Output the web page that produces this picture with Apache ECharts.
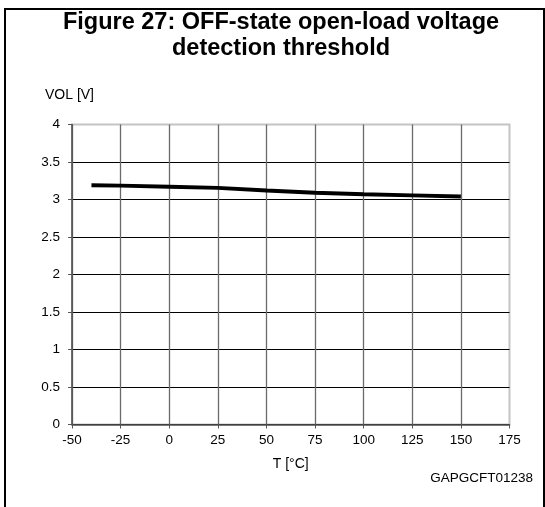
<!DOCTYPE html>
<html>
<head>
<meta charset="utf-8">
<script src="https://cdn.jsdelivr.net/npm/echarts@6/dist/echarts.min.js"></script>
<style>
  html, body { margin: 0; padding: 0; background: #fff; }
  #chart { width: 545px; height: 507px; }
</style>
</head>
<body>
<div id="chart"></div>
<script>
// temperature points (°C) and threshold voltage (V)
const temps = [-40, -25, 0, 25, 50, 75, 100, 125, 150]
const vol = [3.19, 3.185, 3.17, 3.155, 3.12, 3.09, 3.07, 3.055, 3.04]
const xTicks = [-50, -25, 0, 25, 50, 75, 100, 125, 150, 175]
const yTicks = [0, 0.5, 1, 1.5, 2, 2.5, 3, 3.5, 4]

const font = '"Liberation Sans", Arial, sans-serif'
const chart = echarts.init(document.getElementById('chart'))

chart.setOption({
  animation: false,
  title: [
    {
      text: 'Figure 27: OFF-state open-load voltage\ndetection threshold',
      left: 281,
      top: 10,
      textAlign: 'center',
      padding: 0,
      textStyle: {
        fontFamily: font,
        fontWeight: 'bold',
        fontSize: 23.5,
        lineHeight: 26,
        color: '#000'
      }
    },
    {
      text: 'GAPGCFT01238',
      right: 12,
      top: 471,
      padding: 0,
      textStyle: {
        fontFamily: font,
        fontWeight: 'normal',
        fontSize: 13.5,
        color: '#000'
      }
    }
  ],
  graphic: [
    { type: 'line', shape: { x1: 5, y1: 9, x2: 5, y2: 507 }, style: { stroke: '#000', lineWidth: 2 } },
    { type: 'line', shape: { x1: 4, y1: 9, x2: 545, y2: 9 }, style: { stroke: '#000', lineWidth: 2 } },
    { type: 'line', shape: { x1: 544, y1: 8, x2: 544, y2: 507 }, style: { stroke: '#000', lineWidth: 2 } }
  ],
  grid: {
    left: 72,
    right: 35.5,
    top: 124.5,
    bottom: 82.5,
    show: true,
    borderColor: '#c4c4c4',
    borderWidth: 2
  },
  xAxis: {
    type: 'value',
    min: xTicks[0],
    max: xTicks[xTicks.length - 1],
    interval: 25,
    name: 'T [°C]',
    nameLocation: 'middle',
    nameGap: 33,
    nameTextStyle: { fontFamily: font, fontSize: 14, color: '#000' },
    axisLine: { onZero: false, lineStyle: { color: '#555', width: 1.5 } },
    axisTick: { show: true, length: 4, lineStyle: { color: '#555' } },
    axisLabel: { margin: 9, fontFamily: font, fontSize: 13.5, color: '#000' },
    splitLine: { show: true, showMaxLine: false, lineStyle: { color: '#6a6a6a', width: 1.3 } }
  },
  yAxis: {
    type: 'value',
    min: yTicks[0],
    max: yTicks[yTicks.length - 1],
    interval: 0.5,
    name: 'VOL [V]',
    nameLocation: 'end',
    nameGap: 22,
    nameTextStyle: { fontFamily: font, fontSize: 14, color: '#000', padding: [0, 5, 0, 0] },
    axisLine: { show: true, onZero: false, lineStyle: { color: '#555', width: 1.5 } },
    axisTick: { show: true, length: 4, lineStyle: { color: '#555' } },
    axisLabel: { margin: 12, fontFamily: font, fontSize: 13.5, color: '#000' },
    splitLine: { show: true, showMaxLine: false, lineStyle: { color: '#000', width: 1 } }
  },
  series: [
    {
      type: 'line',
      data: temps.map((t, i) => [t, vol[i]]),
      showSymbol: false,
      smooth: false,
      lineStyle: { color: '#000', width: 4 }
    }
  ]
})
</script>
</body>
</html>
